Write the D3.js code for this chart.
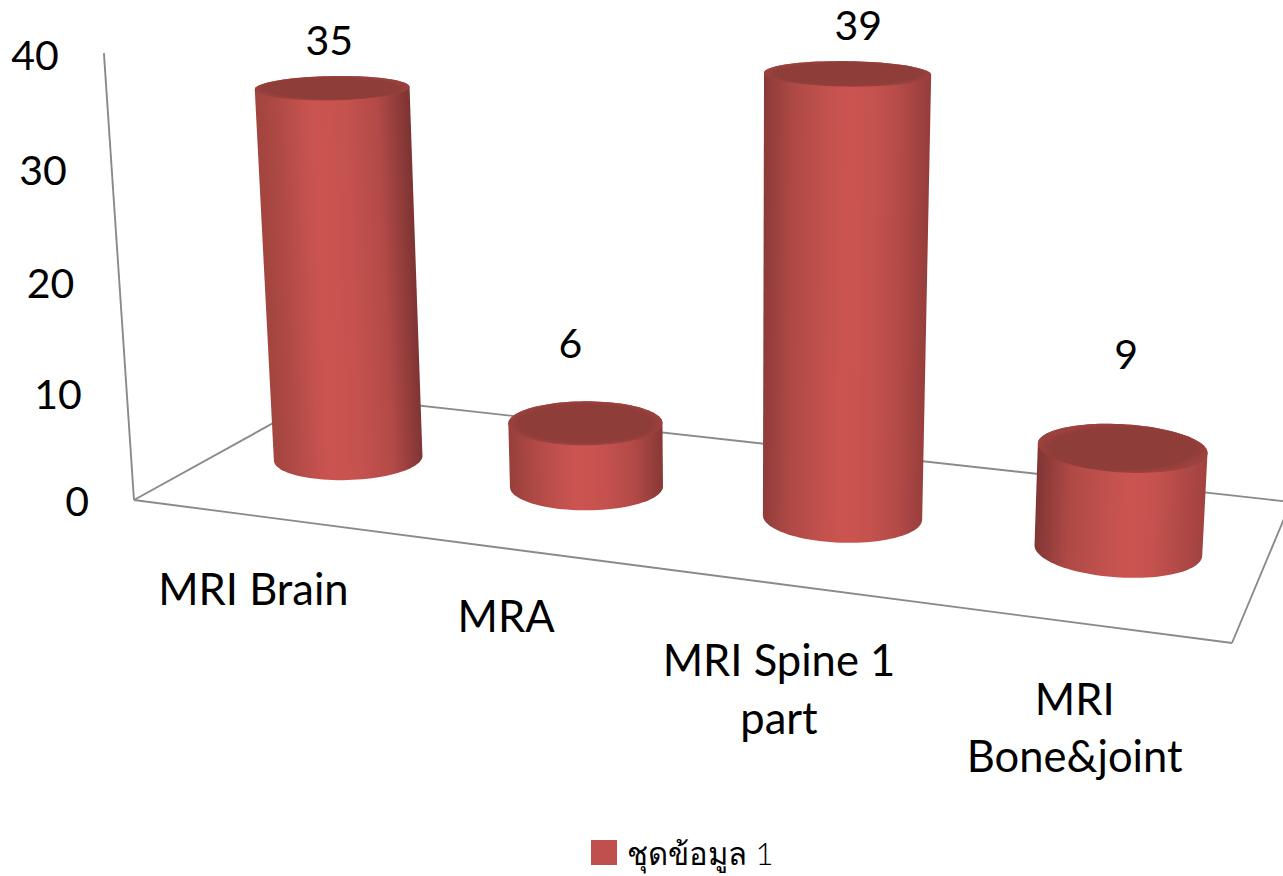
<!DOCTYPE html>
<html>
<head>
<meta charset="utf-8">
<title>MRI</title>
<script src="https://cdnjs.cloudflare.com/ajax/libs/d3/7.8.5/d3.min.js"></script>
<style>
	html, body { margin: 0; background: #fff; overflow: hidden; }
	text { font-family: Lato, Carlito, sans-serif; fill: #000; }
</style>
</head>
<body>
<script>
/* Chart data */
var categories = ["MRI Brain", "MRA", "MRI Spine 1 part", "MRI Bone&joint"];
var categoryLines = [["MRI Brain"], ["MRA"], ["MRI Spine 1", "part"], ["MRI", "Bone&joint"]];
var values = [35, 6, 39, 9];
var yTicks = [0, 10, 20, 30, 40];
var seriesName = "ชุดข้อมูล 1";

/* Display setup */
var width = 1283,
	height = 876,
	fontSize = 41,
	categoryFontSize = 43.5,
	svg = d3.select("body").append("svg")
		.attr("width", width)
		.attr("height", height),
	defs = svg.append("defs");

/* Floor of the 3D box: u runs along the categories, v goes into the picture */
var floor = {a: [134, 500], b: [1232, 643], c: [1291, 502], d: [324, 395]},
	vanish = [740, 9500], // where the upright edges meet, far below the picture
	cylinder = {ru: 0.072, rv: 0.19};

var u = d3.scaleBand().domain(categories).range([0, 1]),
	h = d3.scaleLinear().domain([0, 40]).range([0, -0.0473]);

// Unit square to floor quad
var dx1 = floor.b[0] - floor.c[0], dx2 = floor.d[0] - floor.c[0],
	sx = floor.a[0] - floor.b[0] + floor.c[0] - floor.d[0],
	dy1 = floor.b[1] - floor.c[1], dy2 = floor.d[1] - floor.c[1],
	sy = floor.a[1] - floor.b[1] + floor.c[1] - floor.d[1],
	det = dx1 * dy2 - dx2 * dy1,
	g1 = (sx * dy2 - dx2 * sy) / det,
	g2 = (dx1 * sy - sx * dy1) / det;

function project(pu, pv, value) {
	var t = h(value),
		X = (floor.b[0] - floor.a[0] + g1 * floor.b[0]) * pu + (floor.d[0] - floor.a[0] + g2 * floor.d[0]) * pv + floor.a[0],
		Y = (floor.b[1] - floor.a[1] + g1 * floor.b[1]) * pu + (floor.d[1] - floor.a[1] + g2 * floor.d[1]) * pv + floor.a[1],
		W = g1 * pu + g2 * pv + 1;
	return [(X + t * vanish[0]) / (W + t), (Y + t * vanish[1]) / (W + t)];
}

function circle(pu, value, k) {
	return d3.range(0, 96).map(function(i) {
		var a = i / 96 * 2 * Math.PI;
		return project(pu + k * cylinder.ru * Math.cos(a), 0.5 + k * cylinder.rv * Math.sin(a), value);
	});
}

var line = d3.line().curve(d3.curveLinearClosed);

/* Box edges */
var axisColor = "#8a8a8a",
	edges = svg.append("g")
		.attr("fill", "none")
		.attr("stroke", axisColor)
		.attr("stroke-width", 1.9);

[
	[project(0, 0, 40), project(0, 0, 0)],
	[project(0, 0, 0), project(1, 0, 0)],
	[project(1, 0, 0), project(1, 1, 0)],
	[project(1, 1, 0), project(0, 1, 0)],
	[project(0, 1, 0), project(0, 0, 0)]
].forEach(function(d) {
	edges.append("line")
		.attr("x1", d[0][0])
		.attr("y1", d[0][1])
		.attr("x2", d[1][0])
		.attr("y2", d[1][1]);
});

/* Y axis labels */
svg.append("g").selectAll("text")
	.data(yTicks)
	.enter().append("text")
		.attr("x", function(d) { return project(0, 0, d)[0] - 45; })
		.attr("y", function(d) { return project(0, 0, d)[1] + 2; })
		.attr("dy", "0.35em")
		.attr("text-anchor", "end")
		.style("font-size", fontSize + "px")
		.text(function(d) { return d; });

/* Cylinders */
var highlight = d3.scaleLinear().domain([0, 1]).range([0.36, 0.6]),
	leftEdge = d3.scaleLinear().domain([0, 1]).range(["#a8463f", "#7a3332"]),
	rightEdge = d3.scaleLinear().domain([0, 1]).range(["#733030", "#a84541"]);

var bars = svg.append("g").selectAll("g")
	.data(values)
	.enter().append("g")
		.each(function(d, i) {
			var pu = u(categories[i]) + u.bandwidth() / 2,
				bottom = circle(pu, 0, 1),
				top = circle(pu, d, 1),
				hull = d3.polygonHull(bottom.concat(top)),
				c0 = project(pu, 0.5, 0),
				c1 = project(pu, 0.5, d),
				len = Math.hypot(c0[0] - c1[0], c0[1] - c1[1]),
				nx = (c0[1] - c1[1]) / len, // across the cylinder
				ny = -(c0[0] - c1[0]) / len,
				ext = d3.extent(hull, function(p) { return p[0] * nx + p[1] * ny; }),
				p = highlight(pu);

			var grad = defs.append("linearGradient")
				.attr("id", "body" + i)
				.attr("gradientUnits", "userSpaceOnUse")
				.attr("x1", ext[0] * nx)
				.attr("y1", ext[0] * ny)
				.attr("x2", ext[1] * nx)
				.attr("y2", ext[1] * ny);
			[
				[0, leftEdge(pu)],
				[p * 0.35, "#ae4945"],
				[p * 0.8, "#c5524e"],
				[p, "#cb5450"],
				[p + (1 - p) * 0.3, "#c5524e"],
				[p + (1 - p) * 0.65, "#b34a47"],
				[1, rightEdge(pu)]
			].forEach(function(s) {
				grad.append("stop").attr("offset", s[0]).attr("stop-color", s[1]);
			});

			var cap = defs.append("radialGradient")
				.attr("id", "cap" + i);
			[[0, "#8e3d39"], [0.86, "#8f3d39"], [1, "#9c413e"]].forEach(function(s) {
				cap.append("stop").attr("offset", s[0]).attr("stop-color", s[1]);
			});

			d3.select(this).append("path")
				.attr("d", line(hull))
				.attr("fill", "url(#body" + i + ")");
			d3.select(this).append("path")
				.attr("d", line(top))
				.attr("fill", "url(#cap" + i + ")");
		});

/* Data labels */
var labelOffset = [[-3, -47], [-15, -79], [11, -48], [4, -93]];

svg.append("g").selectAll("text")
	.data(values)
	.enter().append("text")
		.attr("x", function(d, i) { return project(u(categories[i]) + u.bandwidth() / 2, 0.5, d)[0] + labelOffset[i][0]; })
		.attr("y", function(d, i) { return project(u(categories[i]) + u.bandwidth() / 2, 0.5, d)[1] + labelOffset[i][1]; })
		.attr("dy", "0.35em")
		.attr("text-anchor", "middle")
		.style("font-size", fontSize + "px")
		.text(function(d) { return d; });

/* Category labels */
var lineStep = 57.5,
	categoryDrop = [74, 68, 77, 77];

svg.append("g").selectAll("g")
	.data(categories)
	.enter().append("g")
		.each(function(d, i) {
			var base = project(u(d) + u.bandwidth() / 2, 0, 0);
			d3.select(this).selectAll("text")
				.data(categoryLines[i])
				.enter().append("text")
					.attr("x", base[0])
					.attr("y", function(l, j) { return base[1] + categoryDrop[i] + j * lineStep; })
					.attr("dy", "0.35em")
					.attr("text-anchor", "middle")
					.style("font-size", categoryFontSize + "px")
					.text(function(l) { return l; });
		});

/* Legend */
var legend = svg.append("g");

legend.append("rect")
	.attr("x", 591)
	.attr("y", 840)
	.attr("width", 26)
	.attr("height", 25)
	.attr("fill", "#c0504d");

legend.append("text")
	.attr("x", 627)
	.attr("y", 865)
	.style("font-size", "31px")
	.style("font-weight", 300)
	.text(seriesName);
</script>
</body>
</html>
